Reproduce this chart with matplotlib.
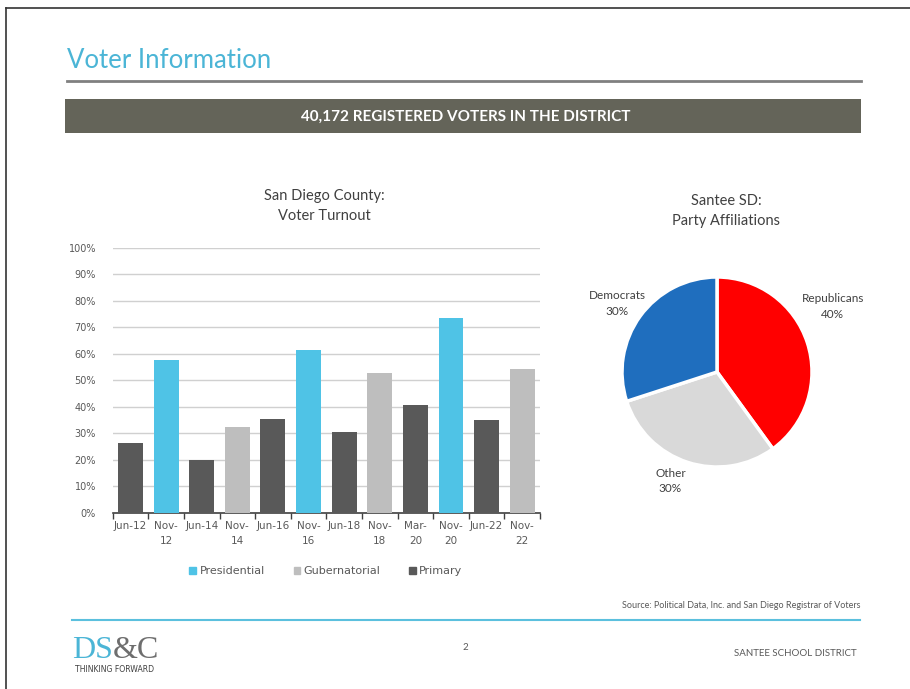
import matplotlib.pyplot as plt
from matplotlib.patches import Rectangle
from matplotlib.lines import Line2D

# turnout by election (share of registered voters)
elections = ['Jun-12', 'Nov-\n12', 'Jun-14', 'Nov-\n14', 'Jun-16', 'Nov-\n16',
             'Jun-18', 'Nov-\n18', 'Mar-\n20', 'Nov-\n20', 'Jun-22', 'Nov-\n22']
turnout = [0.262, 0.575, 0.199, 0.323, 0.355, 0.614,
           0.304, 0.528, 0.408, 0.735, 0.348, 0.542]
election_type = ['Primary', 'Presidential', 'Primary', 'Gubernatorial', 'Primary', 'Presidential',
                 'Primary', 'Gubernatorial', 'Primary', 'Presidential', 'Primary', 'Gubernatorial']
yticks = [0, 0.1, 0.2, 0.3, 0.4, 0.5, 0.6, 0.7, 0.8, 0.9, 1.0]

# party affiliations
parties = ['Republicans', 'Other', 'Democrats']
shares = [40, 30, 30]

type_colors = {'Presidential': '#4FC3E6', 'Gubernatorial': '#BEBEBE', 'Primary': '#595959'}
party_colors = ['#FF0000', '#D9D9D9', '#1F6EBE']

W, H = 910, 689
text_gray = '#404040'


def box(x0, y0, x1, y1):
    # pixel box (top-left origin) -> figure fraction rect
    return [x0 / W, 1 - y1 / H, (x1 - x0) / W, (y1 - y0) / H]


def fx(x):
    return x / W


def fy(y):
    return 1 - y / H


fig = plt.figure(figsize=(W / 100, H / 100), dpi=100)
fig.patch.set_facecolor('white')

# screen border
fig.add_artist(Line2D([fx(6), fx(6)], [0, fy(8)], color='#333333', lw=1.2))
fig.add_artist(Line2D([fx(6), 1], [fy(8), fy(8)], color='#333333', lw=1.2))

# slide header
fig.text(fx(67), fy(60), 'Voter Information', fontsize=18.5, color='#4BB5D6',
         family='Lato', ha='left', va='center')
fig.add_artist(Line2D([fx(67), fx(861)], [fy(80.5), fy(80.5)], color='#808080', lw=2))
fig.add_artist(Rectangle((fx(65), fy(133)), fx(861) - fx(65), fy(99) - fy(133),
                         facecolor='#646459', edgecolor='none'))
fig.text(fx(466), fy(116.5), '40,172 REGISTERED VOTERS IN THE DISTRICT', fontsize=11,
         color='white', weight='bold', family='Lato', ha='center', va='center')

# bar chart
ax = fig.add_axes(box(112.7, 247.7, 540, 512.7))
x = list(range(len(elections)))
ax.bar(x, turnout, width=0.7, color=[type_colors[t] for t in election_type], zorder=3)
ax.set_xlim(-0.5, len(elections) - 0.5)
ax.set_ylim(0, 1.0)
ax.set_yticks(yticks)
ax.set_yticklabels(['%d%%' % round(v * 100) for v in yticks], fontsize=7, color='#595959')
ax.tick_params(axis='y', length=0, pad=12)
ax.yaxis.grid(True, color='#D0D0D0', lw=1, zorder=0)
ax.set_xticks(x)
ax.set_xticklabels(elections, fontsize=7.5, color='#595959', linespacing=1.6, va='top')
ax.tick_params(axis='x', length=0, pad=6)
ax.set_xticks([i - 0.5 for i in range(len(elections) + 1)], minor=True)
ax.tick_params(axis='x', which='minor', length=4, width=1, color='#404040')
for s in ['left', 'right', 'top']:
    ax.spines[s].set_visible(False)
ax.spines['bottom'].set_color('#404040')
ax.spines['bottom'].set_linewidth(1.2)

fig.text(fx(324), fy(206), 'San Diego County:\nVoter Turnout', fontsize=10.5,
         color=text_gray, family='Lato', ha='center', va='center', linespacing=1.6)

handles = [Rectangle((0, 0), 1, 1, color=type_colors[k]) for k in ['Presidential', 'Gubernatorial', 'Primary']]
fig.legend(handles, ['Presidential', 'Gubernatorial', 'Primary'], loc='center',
           bbox_to_anchor=(fx(326), fy(571)), ncol=3, frameon=False, fontsize=8,
           handlelength=0.6, handleheight=0.6, handletextpad=0.3, columnspacing=2.6,
           labelcolor='#595959')

# pie chart
cx, cy, r = 717, 372, 95
pax = fig.add_axes(box(cx - r, cy - r, cx + r, cy + r))
pax.pie(shares, colors=party_colors, startangle=90, counterclock=False,
        wedgeprops=dict(edgecolor='white', linewidth=2.5))
pax.set_xlim(-1, 1)
pax.set_ylim(-1, 1)
pax.set_aspect('equal')
pax.axis('off')

label_pos = [(1.22, 0.69), (-0.49, -1.15), (-1.05, 0.72)]
for name, share, (lx, ly) in zip(parties, shares, label_pos):
    pax.text(lx, ly, '%s\n%d%%' % (name, share), fontsize=8.5, color=text_gray,
             family='Lato', ha='center', va='center', linespacing=1.5, clip_on=False)

fig.text(fx(726), fy(211), 'Santee SD:\nParty Affiliations', fontsize=10.5,
         color=text_gray, family='Lato', ha='center', va='center', linespacing=1.6)

# footer
fig.text(fx(860), fy(606), 'Source: Political Data, Inc. and San Diego Registrar of Voters',
         fontsize=6.5, color='#595959', family='Lato', ha='right', va='center')
fig.add_artist(Line2D([fx(72), fx(860)], [fy(620), fy(620)], color='#5BC0DE', lw=1.5))

# logo: "DS" in blue, "&C" in gray right after it
ds = fig.text(fx(72), fy(650), 'DS', fontsize=23, color='#4BB5D6', family='Liberation Serif',
              ha='left', va='center')
fig.canvas.draw()
ds_box = ds.get_window_extent()
fig.text(ds_box.x1 / W, fy(650), '&C', fontsize=23, color='#6E6E6E', family='Liberation Serif',
         ha='left', va='center')
fig.text(fx(75), fy(669), 'THINKING FORWARD', fontsize=5.6, color='#404040',
         family='DejaVu Sans', ha='left', va='center')
fig.text(fx(465), fy(648), '2', fontsize=7, color='#595959', family='Lato',
         ha='center', va='center')
fig.text(fx(857), fy(654), 'SANTEE SCHOOL DISTRICT', fontsize=7, color='#595959',
         family='Lato', ha='right', va='center')

fig.savefig('out.png', dpi=100)
